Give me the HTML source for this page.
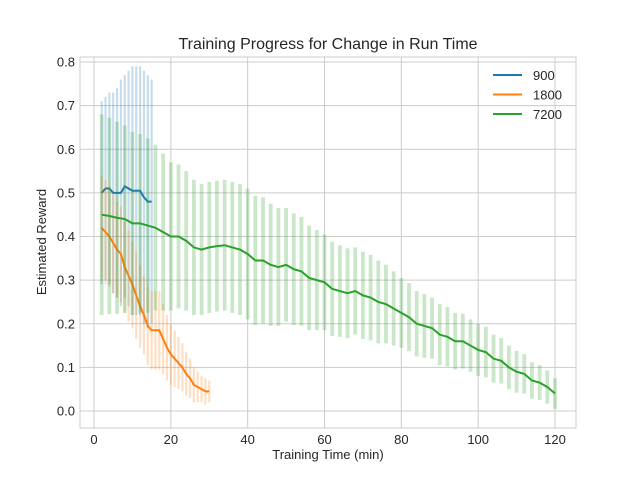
<!DOCTYPE html>
<html><head><meta charset="utf-8"><style>
body{margin:0;background:#fff}
svg{font-family:"Liberation Sans",sans-serif}
</style></head><body>
<svg id="chart" width="640" height="480" xmlns="http://www.w3.org/2000/svg"></svg>
<script>
const xTicks=[0,20,40,60,80,100,120];
const yTicks=[0.0,0.1,0.2,0.3,0.4,0.5,0.6,0.7,0.8];
const seriesNames=["900","1800","7200"];
const blueX=[2,3,4,5,6,7,8,9,10,11,12,13,14,15];
const blueMean=[0.50,0.51,0.51,0.50,0.50,0.50,0.515,0.51,0.505,0.505,0.505,0.49,0.48,0.48];
const blueErr=[0.21,0.21,0.22,0.23,0.24,0.26,0.255,0.27,0.285,0.285,0.285,0.29,0.29,0.28];
const orangeX=[2,3,4,5,6,7,8,9,10,11,12,13,14,15,16,17,18,19,20,21,22,23,24,25,26,27,28,29,30];
const orangeMean=[0.42,0.41,0.40,0.385,0.37,0.36,0.33,0.31,0.29,0.265,0.24,0.22,0.195,0.185,0.185,0.185,0.165,0.145,0.13,0.12,0.11,0.10,0.085,0.075,0.06,0.055,0.05,0.045,0.045];
const orangeErr=[0.12,0.12,0.115,0.115,0.11,0.11,0.105,0.105,0.10,0.10,0.095,0.09,0.09,0.09,0.09,0.09,0.08,0.075,0.07,0.065,0.06,0.055,0.05,0.045,0.04,0.035,0.03,0.03,0.025];
const greenX=[];for(let i=2;i<=120;i+=2)greenX.push(i);
const greenMean=[0.45,0.447,0.443,0.44,0.43,0.43,0.425,0.42,0.41,0.40,0.40,0.39,0.375,0.37,0.375,0.378,0.38,0.375,0.37,0.36,0.345,0.345,0.335,0.33,0.335,0.325,0.32,0.305,0.30,0.295,0.28,0.275,0.27,0.275,0.265,0.26,0.25,0.245,0.235,0.225,0.215,0.20,0.195,0.19,0.175,0.17,0.16,0.16,0.15,0.14,0.135,0.12,0.115,0.10,0.09,0.085,0.07,0.065,0.055,0.04];
const greenErr=[0.23,0.225,0.22,0.215,0.21,0.205,0.20,0.19,0.18,0.17,0.165,0.16,0.155,0.15,0.15,0.15,0.15,0.15,0.15,0.15,0.148,0.145,0.14,0.135,0.13,0.128,0.125,0.12,0.115,0.11,0.108,0.105,0.103,0.10,0.10,0.098,0.095,0.09,0.085,0.08,0.078,0.075,0.073,0.07,0.07,0.068,0.065,0.063,0.06,0.06,0.058,0.055,0.052,0.05,0.048,0.045,0.042,0.04,0.038,0.035];

const L=80,R=576,T=57,B=428;
const xs=v=>94+(v/120)*(555-94);
const ys=v=>411-v*436.25;
const svg=document.getElementById('chart');
const NS="http://www.w3.org/2000/svg";
function mk(tag,attrs,parent){const e=document.createElementNS(NS,tag);for(const k in attrs)e.setAttribute(k,attrs[k]);(parent||svg).appendChild(e);return e;}

const grid=mk('g',{});


xTicks.forEach(t=>{
  const l=mk('line',{x1:xs(t),x2:xs(t),y1:T,y2:B,stroke:'#cccccc','stroke-width':1},grid);
  
  
  const tx=mk('text',{x:xs(t),y:B+16,'text-anchor':'middle','font-size':13,fill:'#262626'});
  
  
  tx.textContent=t;
});
yTicks.forEach(t=>{
  const l=mk('line',{x1:L,x2:R,y1:ys(t),y2:ys(t),stroke:'#cccccc','stroke-width':1},grid);
  
  
  const tx=mk('text',{x:L-5,y:ys(t)+4.5,'text-anchor':'end','font-size':13,fill:'#262626'});
  
  
  tx.textContent=t.toFixed(1);
});
const frame=mk('rect',{x:L,y:T,width:R-L,height:B-T,fill:'none',stroke:'#cccccc'});



const series=[
 {name:'series-900',x:blueX,m:blueMean,e:blueErr,c:'#1f77b4'},
 {name:'series-1800',x:orangeX,m:orangeMean,e:orangeErr,c:'#ff7f0e'},
 {name:'series-7200',x:greenX,m:greenMean,e:greenErr,c:'#2ca02c'}
];
// draw error bars (green first behind? matplotlib order: each series draws line+bars)
series.forEach((s,si)=>{
  const g=mk('g',{});
  
  
  const bw=si===2?3.8:2.2;
  s.x.forEach((xv,i)=>{
    const b=mk('line',{x1:xs(xv),x2:xs(xv),y1:ys(s.m[i]-s.e[i]),y2:ys(s.m[i]+s.e[i]),stroke:s.c,'stroke-width':bw,'stroke-opacity':0.25},g);
    
    
  });
  const p=mk('polyline',{points:s.x.map((xv,i)=>xs(xv)+','+ys(s.m[i])).join(' '),fill:'none',stroke:s.c,'stroke-width':2},g);
  
  
});

const title=mk('text',{x:328,y:49,'text-anchor':'middle','font-size':16,fill:'#262626'});


title.textContent='Training Progress for Change in Run Time';
const xl=mk('text',{x:328,y:459,'text-anchor':'middle','font-size':13,fill:'#262626'});


xl.textContent='Training Time (min)';
const yl=mk('text',{x:46,y:242,'text-anchor':'middle','font-size':13,fill:'#262626',transform:'rotate(-90 46 242)'});


yl.textContent='Estimated Reward';

const leg=mk('g',{});


series.forEach((s,i)=>{
  const y=75+i*19.5;
  const ln=mk('line',{x1:493,x2:522,y1:y,y2:y,stroke:s.c,'stroke-width':2},leg);
  
  
  const t=mk('text',{x:533,y:y+5,'font-size':13,fill:'#262626'},leg);
  
  
  t.textContent=seriesNames[i];
});
</script>
</body></html>
